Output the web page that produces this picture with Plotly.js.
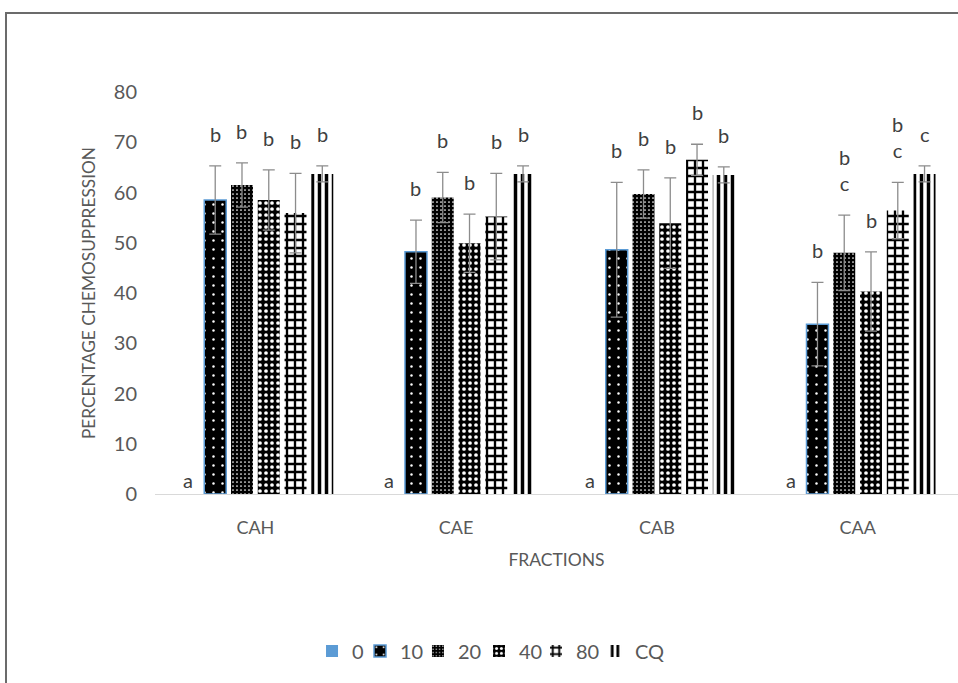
<!DOCTYPE html>
<html>
<head>
<meta charset="utf-8">
<script src="https://cdn.plot.ly/plotly-3.0.1.min.js"></script>
<style>
  html, body { margin: 0; padding: 0; background: #fff; }
  #wrap { position: relative; width: 958px; height: 683px; overflow: hidden; }
  #chart { width: 958px; height: 683px; }
  #frame { position: absolute; left: 5px; top: 12px; width: 960px; height: 680px;
           border-top: 2px solid #6b6b6b; border-left: 2px solid #6b6b6b; pointer-events: none; }
</style>
</head>
<body>
<div id="wrap">
  <div id="chart"></div>
  <div id="frame"></div>
</div>
<script>
// ---- data ----
const categories = ["CAH", "CAE", "CAB", "CAA"];
const seriesNames = ["0", "10", "20", "40", "80", "CQ"];

const values0  = [0, 0, 0, 0];
const values10 = [58.5, 48.2, 48.6, 33.8];
const values20 = [61.5, 59.0, 59.7, 48.0];
const values40 = [58.5, 49.9, 53.9, 40.3];
const values80 = [55.9, 55.2, 66.5, 56.4];
const valuesCQ = [63.7, 63.7, 63.5, 63.7];

const err0  = [0, 0, 0, 0];
const err10 = [6.8, 6.3, 13.4, 8.3];
const err20 = [4.4, 5.0, 4.8, 7.5];
const err40 = [6.0, 5.8, 9.0, 7.9];
const err80 = [7.9, 8.6, 3.1, 5.6];
const errCQ = [1.6, 1.6, 1.6, 1.6];

const letters0  = ["a", "a", "a", "a"];
const letters10 = ["b", "b", "b", "b"];
const letters20 = ["b", "b", "b", "b<br>c"];
const letters40 = ["b", "b", "b", "b"];
const letters80 = ["b", "b", "b", "b<br>c"];
const lettersCQ = ["b", "b", "b", "c"];

const yTicks = [0, 10, 20, 30, 40, 50, 60, 70, 80];

// ---- build ----
const allValues = [values0, values10, values20, values40, values80, valuesCQ];
const allErrs = [err0, err10, err20, err40, err80, errCQ];
const allLetters = [letters0, letters10, letters20, letters40, letters80, lettersCQ];

const styles = [
  { color: "#5B9BD5", line: { width: 0 }, pattern: { shape: "" } },
  { color: "#000000", line: { color: "#5B9BD5", width: 1.5 },
    pattern: { shape: ".", fgcolor: "#ffffff", bgcolor: "#000000", size: 9, solidity: 0.06 } },
  { color: "#000000", line: { width: 0 },
    pattern: { shape: ".", fgcolor: "#ffffff", bgcolor: "#000000", size: 4, solidity: 0.15 } },
  { color: "#000000", line: { width: 0 },
    pattern: { shape: ".", fgcolor: "#ffffff", bgcolor: "#000000", size: 6, solidity: 0.3 } },
  { color: "#ffffff", line: { width: 0 },
    pattern: { shape: "+", fgcolor: "#000000", bgcolor: "#ffffff", size: 8, solidity: 0.5 } },
  { color: "#ffffff", line: { width: 0 },
    pattern: { shape: "|", fgcolor: "#000000", bgcolor: "#ffffff", size: 7, solidity: 0.5 } }
];

// one small legend box per series, laid out left-to-right like the original
const legendIds = ["legend", "legend2", "legend3", "legend4", "legend5", "legend6"];
const legendX = [0.3257, 0.3758, 0.4363, 0.5, 0.5595, 0.6211];

const bargap = 0.2;
const traces = seriesNames.map((name, i) => ({
  type: "bar",
  name: name,
  x: categories,
  y: allValues[i],
  marker: styles[i],
  legend: legendIds[i],
  error_y: i === 0 ? { visible: false } : {
    type: "data", array: allErrs[i], visible: true,
    color: "#8c8c8c", thickness: 1.3, width: 6
  },
  hoverinfo: "skip"
}));

const nS = seriesNames.length;
const slot = (1 - bargap) / nS;
const annotations = [];
for (let s = 0; s < nS; s++) {
  for (let c = 0; c < categories.length; c++) {
    const top = allValues[s][c] + allErrs[s][c];
    annotations.push({
      xref: "x", yref: "y",
      x: c + (s - (nS - 1) / 2) * slot,
      y: top,
      text: allLetters[s][c],
      showarrow: false,
      yanchor: "bottom",
      yshift: s === 0 ? 0 : 18,
      font: { family: "Lato, 'Open Sans', sans-serif", size: 20, color: "#404040" }
    });
  }
}

const layout = {
  width: 958, height: 683,
  paper_bgcolor: "#ffffff", plot_bgcolor: "#ffffff",
  margin: { l: 155, r: 0, t: 92, b: 189 },
  barmode: "group",
  bargap: bargap,
  bargroupgap: 0.18,
  font: { family: "Lato, 'Open Sans', sans-serif", color: "#595959" },
  xaxis: {
    type: "category",
    showline: true, linecolor: "#D9D9D9", linewidth: 1.2,
    ticks: "", showgrid: false, ticklabelstandoff: 17,
    tickfont: { size: 18, color: "#595959" },
    title: { text: "FRACTIONS", font: { size: 17.5, color: "#595959" }, standoff: 17 }
  },
  yaxis: {
    range: [0, 80],
    tickvals: yTicks,
    showline: false, showgrid: false, zeroline: false,
    ticks: "", ticklabelstandoff: 17,
    tickfont: { size: 20, color: "#595959" },
    title: { text: "PERCENTAGE CHEMOSUPPRESSION", font: { size: 17.3, color: "#595959" }, standoff: 13 }
  },
  showlegend: true,
  annotations: annotations
};

legendIds.forEach((id, i) => {
  layout[id] = {
    orientation: "h",
    xref: "container", yref: "container",
    x: legendX[i], xanchor: "left",
    y: 0.047, yanchor: "middle",
    font: { size: 20, color: "#595959" },
    itemwidth: 30,
    bgcolor: "rgba(0,0,0,0)"
  };
});

Plotly.newPlot("chart", traces, layout, { displayModeBar: false, staticPlot: true });
</script>
</body>
</html>
